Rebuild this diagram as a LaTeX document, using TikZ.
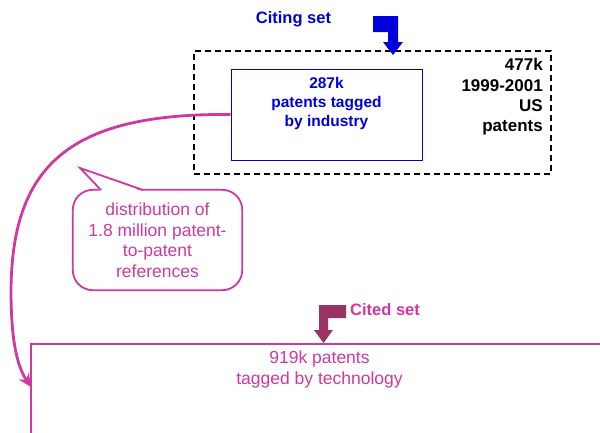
\documentclass[tikz,border=0pt]{standalone}
\usepackage{fontspec}
\setmainfont{Liberation Sans}
\usetikzlibrary{arrows.meta}
\definecolor{citeblue}{RGB}{0,0,220}
\definecolor{refpink}{RGB}{208,56,160}
\definecolor{citedplum}{RGB}{153,51,102}
\tikzset{
  boldtxt/.style={font=\fontsize{#1}{19}\selectfont\bfseries, align=center, inner sep=0pt},
  normtxt/.style={font=\fontsize{17.5}{20.5}\selectfont, align=center, inner sep=0pt, text=refpink},
  refline/.style={draw=refpink, line width=2.8pt, -{Stealth[length=13pt,width=12pt]}},
}
\begin{document}
\begin{tikzpicture}[x=1pt,y=-1pt]
\useasboundingbox (0,0) rectangle (600,432);
\clip (0,0) rectangle (600,432);

% citing set dashed box
\node[draw=black, line width=2.2pt, dash pattern=on 6pt off 4pt, minimum width=357pt, minimum height=123pt, inner sep=0pt] (citing) at (372.5,112.5) {};
% blue box
\node[draw=citeblue, line width=1pt, minimum width=191pt, minimum height=91pt, inner sep=0pt] (industry) at (326.5,114.5) {};
\node[boldtxt=15.5, text=citeblue] (industrytxt) at (326.5,103) {287k\\patents tagged\\by industry};
\node[font=\fontsize{17}{20.3}\selectfont\bfseries, align=right, inner sep=0pt, anchor=east] (alltxt) at (543,97) {477k\\1999-2001\\US\\patents};

% citing set label and block arrow
\node[font=\fontsize{16.5}{19}\selectfont\bfseries, text=citeblue, inner sep=0pt] (citinglbl) at (293.5,19) {Citing set};
\fill[citeblue] (373,16) -- (398,16) -- (398,42) -- (403,42) -- (393,55) -- (383,42) -- (388,42) -- (388,32) -- (373,32) -- cycle;

% cited set box (runs off the page)
\draw[draw=refpink, line width=1.2pt] (31,440) -- (31,344) -- (610,344);
\node[normtxt] (cited) at (319.5,369.5) {919k patents\\tagged by technology};
\coordinate (citedin) at (31,387);

% cited set label and block arrow
\node[font=\fontsize{16.5}{19}\selectfont\bfseries, text=refpink, inner sep=0pt, anchor=west] (citedlbl) at (350,310) {Cited set};
\fill[citedplum] (346,305) -- (319,305) -- (319,330) -- (314,330) -- (323.5,343) -- (333,330) -- (328,330) -- (328,318) -- (346,318) -- cycle;

% reference curve
\draw[refline] (industry.west) .. controls (70,113) and (12,165) .. (11,290) .. controls (11,340) and (17,366) .. (citedin);

% callout
\node[normtxt, minimum width=169pt, minimum height=100pt] (callout) at (157.5,240) {distribution of\\1.8 million patent-\\to-patent\\references};
\draw[refpink, line width=1.8pt, rounded corners=20pt] (callout.north west) rectangle (callout.south east);
\fill[white] (101,191.6) -- (80,168) -- (143,191.6) -- cycle;
\draw[refpink, line width=1.8pt, line join=miter] (101,190) -- (80,168) -- (143,190);
\end{tikzpicture}
\end{document}
